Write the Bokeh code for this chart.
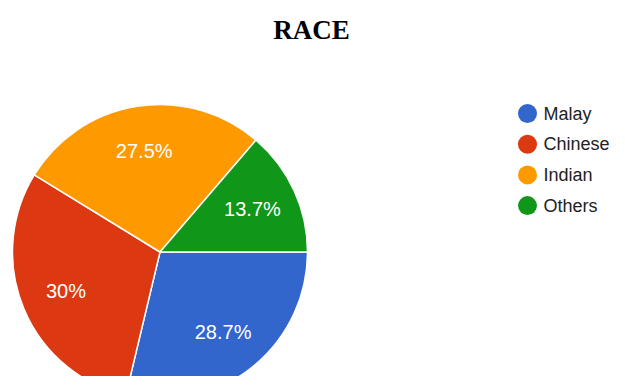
import numpy as np
from bokeh.plotting import figure
from bokeh.models import ColumnDataSource
from bokeh.core.properties import value
from bokeh.embed import file_html
from bokeh.resources import INLINE

categories = ["Malay", "Chinese", "Indian", "Others"]
percents = [28.7, 30.0, 27.5, 13.7]
labels = ["28.7%", "30%", "27.5%", "13.7%"]
colors = ["#3366cc", "#dc3912", "#ff9900", "#109618"]

W, H = 609, 376
p = figure(width=W, height=H, x_range=(0, W), y_range=(0, H),
           output_backend="svg", toolbar_location=None, min_border=0)
p.axis.visible = False
p.grid.visible = False
p.outline_line_color = None

def X(sx):
    return sx

def Y(sy):
    return H - sy

cx, cy, R = X(159.5), Y(251.5), 147.5
frac = np.array(percents) / sum(percents)
cum_after = np.cumsum(frac)
cum_before = cum_after - frac
start = -cum_after * 2 * np.pi
end = -cum_before * 2 * np.pi
mid = (start + end) / 2
lr = 0.69 * R

src = ColumnDataSource(dict(start=start, end=end, color=colors,
                            lx=cx + lr * np.cos(mid), ly=cy + lr * np.sin(mid),
                            label=labels))
p.wedge(x=cx, y=cy, radius=R, start_angle="start", end_angle="end",
        fill_color="color", line_color="white", line_width=1.5, source=src)
p.text(x="lx", y="ly", text="label", source=src, text_color="white",
       text_font=value("Liberation Sans"), text_font_size="20px",
       text_align="center", text_baseline="middle")

# title
p.text(x=[X(311)], y=[Y(29)], text=["RACE"], text_font=value("Liberation Serif"),
       text_font_style="bold", text_font_size="27px", text_color="#000000",
       text_align="center", text_baseline="middle")

# legend
n = len(categories)
leg = ColumnDataSource(dict(x=[X(527)] * n, tx=[X(543)] * n,
                            y=[Y(113 + 30.7 * i) for i in range(n)],
                            name=categories, color=colors))
p.scatter(x="x", y="y", size=19, fill_color="color", line_color=None, source=leg)
p.text(x="tx", y="y", text="name", source=leg, text_color="#222222",
       text_font=value("Liberation Sans"), text_font_size="18px",
       text_align="left", text_baseline="middle")

open("out.html", "w").write(file_html(p, INLINE))
